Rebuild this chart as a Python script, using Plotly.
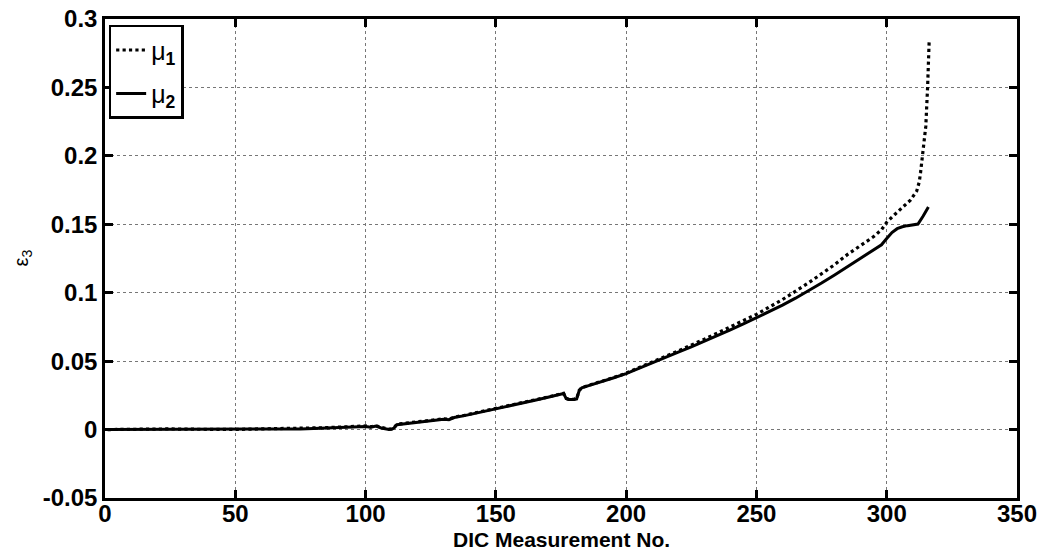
import plotly.graph_objects as go

# DIC measurement numbers and through-thickness strain for the two estimates
x_mu2 = [1, 10, 20, 30, 40, 50, 60, 70, 75, 80, 85, 90, 95, 98, 100, 102, 104, 106, 108,
         109, 110, 111, 112, 115, 120, 125, 128, 130, 132, 134, 138, 142, 146, 150, 155,
         160, 165, 170, 175, 176, 177, 178, 180, 181, 182, 183, 185, 190, 195, 200, 205,
         210, 215, 220, 225, 230, 235, 240, 245, 250, 255, 260, 265, 270, 275, 280, 285,
         290, 295, 298, 300, 302, 304, 306, 308, 310, 312, 314, 316]
y_mu2 = [0, 0, 0, 0, 0, 0, 0.0001, 0.0003, 0.0005, 0.0008, 0.0011, 0.0015, 0.0019, 0.0021,
         0.0023, 0.0017, 0.0025, 0.0012, 0.0003, 0.0, 0.0002, 0.0012, 0.0036, 0.0043, 0.0054,
         0.0066, 0.0071, 0.0076, 0.0072, 0.0088, 0.0102, 0.0118, 0.0134, 0.0151, 0.0172,
         0.0193, 0.0214, 0.0236, 0.0259, 0.0263, 0.0226, 0.0219, 0.0220, 0.0224, 0.0285,
         0.0305, 0.0317, 0.0345, 0.0377, 0.0409, 0.0447, 0.0487, 0.0527, 0.0566, 0.0605,
         0.0645, 0.0686, 0.0729, 0.0772, 0.0816, 0.0861, 0.0909, 0.0960, 0.1014, 0.1071,
         0.1130, 0.1190, 0.1250, 0.1310, 0.1350, 0.1396, 0.1440, 0.1468, 0.1482, 0.1490,
         0.1496, 0.1502, 0.1560, 0.1626]

x_mu1 = [1, 15, 20, 25, 30, 40, 50, 60, 65, 70, 75, 80, 85, 90, 95, 98, 100, 102, 104,
         106, 108, 109, 110, 111, 112, 115, 120, 125, 128, 130, 132, 134, 138, 142, 146,
         150, 155, 160, 165, 170, 175, 176, 177, 178, 180, 181, 182, 183, 185, 190, 195,
         200, 210, 220, 230, 240, 250, 260, 270, 280, 285, 290, 295, 298, 300, 303, 306,
         309, 311.5, 312.5, 313, 313.8, 314.5, 315, 315.7, 316.3]
y_mu1 = [0, 0.0005, 0.0006, 0.0005, 0.0003, 0.0001, 0.0001, 0.0005, 0.0006, 0.0006, 0.0007,
         0.0010, 0.0014, 0.0018, 0.0022, 0.0025, 0.0027, 0.0020, 0.0029, 0.0016, 0.0007,
         0.0004, 0.0006, 0.0016, 0.0039, 0.0046, 0.0057, 0.0069, 0.0074, 0.0079, 0.0076,
         0.0091, 0.0105, 0.0121, 0.0137, 0.0153, 0.0174, 0.0195, 0.0216, 0.0238, 0.0261,
         0.0265, 0.0228, 0.0221, 0.0222, 0.0226, 0.0287, 0.0307, 0.0319, 0.0347, 0.0379,
         0.0412, 0.0492, 0.0575, 0.0660, 0.0748, 0.0842, 0.0950, 0.1072, 0.1205, 0.1280,
         0.1345, 0.1410, 0.1460, 0.1515, 0.1570, 0.1620, 0.1675, 0.1742, 0.1810, 0.1880,
         0.1998, 0.2120, 0.2217, 0.2505, 0.2846]

x_ticks = [0, 50, 100, 150, 200, 250, 300, 350]
x_tick_text = ["0", "50", "100", "150", "200", "250", "300", "350"]
y_ticks = [-0.05, 0, 0.05, 0.1, 0.15, 0.2, 0.25, 0.3]
y_tick_text = ["-0.05", "0", "0.05", "0.1", "0.15", "0.2", "0.25", "0.3"]

FONT = "Liberation Sans, Arial, sans-serif"

fig = go.Figure()
fig.add_trace(go.Scatter(
    x=x_mu1, y=y_mu1, mode="lines", name="μ<sub><b>1</b></sub>", legendgroup="mu1",
    line=dict(color="black", width=3.2, dash="dot"),
))
fig.add_trace(go.Scatter(
    x=x_mu2, y=y_mu2, mode="lines", name="μ<sub><b>2</b></sub>", legendgroup="mu2",
    line=dict(color="black", width=3),
))

axis_common = dict(
    showline=True, linecolor="black", linewidth=2.5, mirror="ticks",
    ticks="inside", ticklen=8, tickwidth=2.5, tickcolor="black",
    showgrid=True, gridcolor="#777", gridwidth=1, griddash="dot",
    zeroline=False, automargin=False,
    tickfont=dict(family=FONT, size=24, color="black"),
)

fig.update_xaxes(
    range=[0, 350], tickvals=x_ticks, ticklabelstandoff=-8,
    ticktext=[f"<b>{t}</b>" for t in x_tick_text], **axis_common,
)
fig.update_yaxes(
    range=[-0.05, 0.3], tickvals=y_ticks, ticklabelstandoff=0,
    ticktext=[f"<b>{t}</b>" for t in y_tick_text], **axis_common,
)

# Axis titles placed in paper coordinates just outside the tick labels
fig.add_annotation(
    text="<b>DIC Measurement No.</b>", xref="paper", yref="paper",
    x=0.5, y=0, yshift=-41, xanchor="center", yanchor="middle", showarrow=False,
    font=dict(family=FONT, size=21, color="black"),
)
fig.add_annotation(
    text="ε<sub>3</sub>", xref="paper", yref="paper",
    x=0, y=0.5, xshift=-83, xanchor="center", yanchor="middle", showarrow=False,
    textangle=-90, font=dict(family=FONT, size=20, color="black"),
)

fig.update_layout(
    width=1043, height=555,
    margin=dict(l=105, r=26, t=19, b=57),
    paper_bgcolor="white", plot_bgcolor="white",
    showlegend=True,
    legend=dict(
        x=0.004, y=0.988, xanchor="left", yanchor="top",
        bordercolor="black", borderwidth=2.5, bgcolor="white",
        font=dict(family=FONT, size=25, color="black"),
        itemwidth=30, tracegroupgap=8,
    ),
)

fig.write_html("out.html")
